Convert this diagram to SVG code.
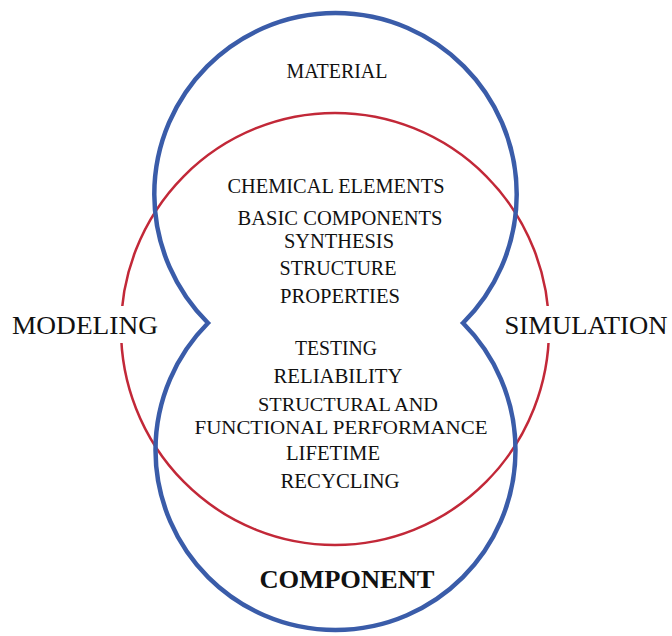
<svg xmlns="http://www.w3.org/2000/svg" width="672" height="636" viewBox="0 0 672 636">
<style>
.blue{fill:none;stroke:#3a5ca9;stroke-width:4.5;stroke-linejoin:miter}
.red{fill:none;stroke:#c22838;stroke-width:2.5}
text{font-family:"Liberation Serif","DejaVu Serif",serif;fill:#111;text-anchor:middle}
.item{font-size:20px}
.tight{font-size:19px}
.side{font-size:26px}
.title{font-size:21px}
.big{font-size:26px;font-weight:bold}
</style>
<rect width="672" height="636" fill="#ffffff"/>
<g id="connectors">
<ellipse id="red-circle" class="red" cx="335" cy="329" rx="214" ry="216"/>
<path id="blue-shape" class="blue" d="M208,323 A181.2,181.2 0 1 1 463,323 A180,180 0 1 1 208,323 Z"/>
</g>
<g id="modeling">
<rect x="4" y="306" width="164" height="37" fill="#ffffff"/>
<text class="side" x="85" y="334" textLength="146" lengthAdjust="spacingAndGlyphs">MODELING</text>
</g>
<g id="simulation">
<rect x="500" y="306" width="172" height="37" fill="#ffffff"/>
<text class="side" x="586" y="334" textLength="163" lengthAdjust="spacingAndGlyphs">SIMULATION</text>
</g>
<g id="material">
<text class="title" x="337" y="78" textLength="101" lengthAdjust="spacingAndGlyphs">MATERIAL</text>
</g>
<g id="center-list">
<text class="item" x="336" y="193" textLength="217" lengthAdjust="spacingAndGlyphs">CHEMICAL ELEMENTS</text>
<text class="item" x="340" y="225" textLength="205" lengthAdjust="spacingAndGlyphs">BASIC COMPONENTS</text>
<text class="item" x="339" y="248" textLength="110" lengthAdjust="spacingAndGlyphs">SYNTHESIS</text>
<text class="item" x="338" y="275" textLength="117" lengthAdjust="spacingAndGlyphs">STRUCTURE</text>
<text class="item" x="340" y="303" textLength="120" lengthAdjust="spacingAndGlyphs">PROPERTIES</text>
<text class="item" x="336" y="355" textLength="82" lengthAdjust="spacingAndGlyphs">TESTING</text>
<text class="item" x="338" y="383" textLength="129" lengthAdjust="spacingAndGlyphs">RELIABILITY</text>
<text class="tight" x="348" y="411" textLength="180" lengthAdjust="spacingAndGlyphs">STRUCTURAL AND</text>
<text class="tight" x="341" y="434" textLength="293" lengthAdjust="spacingAndGlyphs">FUNCTIONAL PERFORMANCE</text>
<text class="item" x="333" y="460" textLength="94" lengthAdjust="spacingAndGlyphs">LIFETIME</text>
<text class="item" x="340" y="488" textLength="119" lengthAdjust="spacingAndGlyphs">RECYCLING</text>
</g>
<g id="component">
<text class="big" x="347" y="588" textLength="175" lengthAdjust="spacingAndGlyphs">COMPONENT</text>
</g>
</svg>
